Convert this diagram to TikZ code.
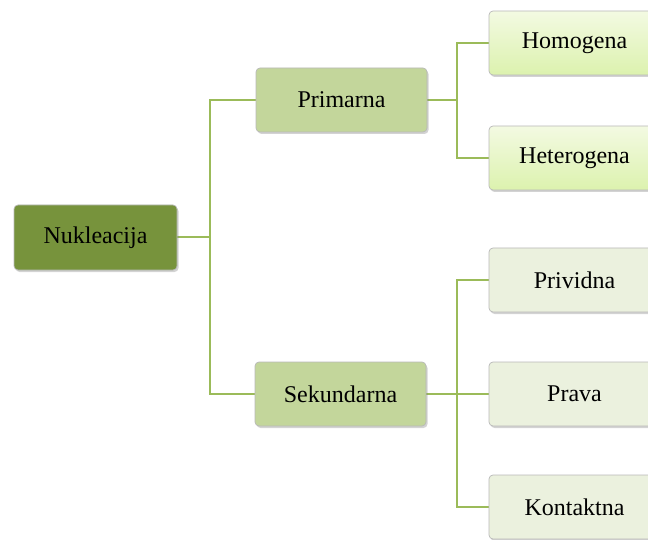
\documentclass[tikz,border=0pt]{standalone}
\usepackage{fontspec}
\setmainfont{Liberation Serif}
\usetikzlibrary{shadows, backgrounds}
\definecolor{rootGreen}{RGB}{119, 147, 60}
\definecolor{midGreen}{RGB}{195, 214, 155}
\definecolor{paleGreen}{RGB}{235, 241, 222}
\definecolor{limeTop}{RGB}{243, 250, 226}
\definecolor{limeBottom}{RGB}{220, 242, 174}
\definecolor{linkGreen}{RGB}{155, 187, 89}
\colorlet{box edge}{black!28}
\tikzset{
    box/.style={rectangle, rounded corners=4pt, draw=box edge, line width=0.7pt,
        minimum width=171pt, minimum height=64pt, font=\fontsize{24}{28}\selectfont,
        drop shadow={shadow xshift=1.5pt, shadow yshift=-2pt, opacity=0.35}},
    rootbox/.style={box, fill=rootGreen, minimum width=163pt, minimum height=65pt},
    midbox/.style={box, fill=midGreen},
    limebox/.style={box, top color=limeTop, bottom color=limeBottom},
    palebox/.style={box, fill=paleGreen},
    link/.style={draw=linkGreen, line width=2pt}
}

\begin{document}
\begin{tikzpicture}[x=1pt, y=-1pt]
    \useasboundingbox (0,0) rectangle (648,540);

    % levels of the tree
    \node[rootbox] (nuk) at (95.5,237.5) {Nukleacija};
    \node[midbox] (prim) at (341.5,100) {Primarna};
    \node[midbox] (sek) at (340.5,394) {Sekundarna};

    \node[limebox] (hom) at (574.5,43) {Homogena};
    \node[limebox] (het) at (574.5,158) {Heterogena};
    \node[palebox] (pri) at (574.5,280) {Prividna};
    \node[palebox] (pra) at (574.5,394) {Prava};
    \node[palebox] (kon) at (574.5,507) {Kontaktna};

    % connectors, behind the boxes
    \coordinate (j1) at (210,237.5);
    \coordinate (j2) at (457,100);
    \coordinate (j3) at (457,394);
    \begin{scope}[on background layer]
    \draw[link] (nuk.east) -- (j1);
    \draw[link] (j1) |- (prim.west);
    \draw[link] (j1) |- (sek.west);
    \draw[link] (prim.east) -- (j2);
    \draw[link] (j2) |- (hom.west);
    \draw[link] (j2) |- (het.west);
    \draw[link] (sek.east) -- (j3);
    \draw[link] (j3) |- (pri.west);
    \draw[link] (j3) |- (pra.west);
    \draw[link] (j3) |- (kon.west);
    \end{scope}
\end{tikzpicture}
\end{document}
